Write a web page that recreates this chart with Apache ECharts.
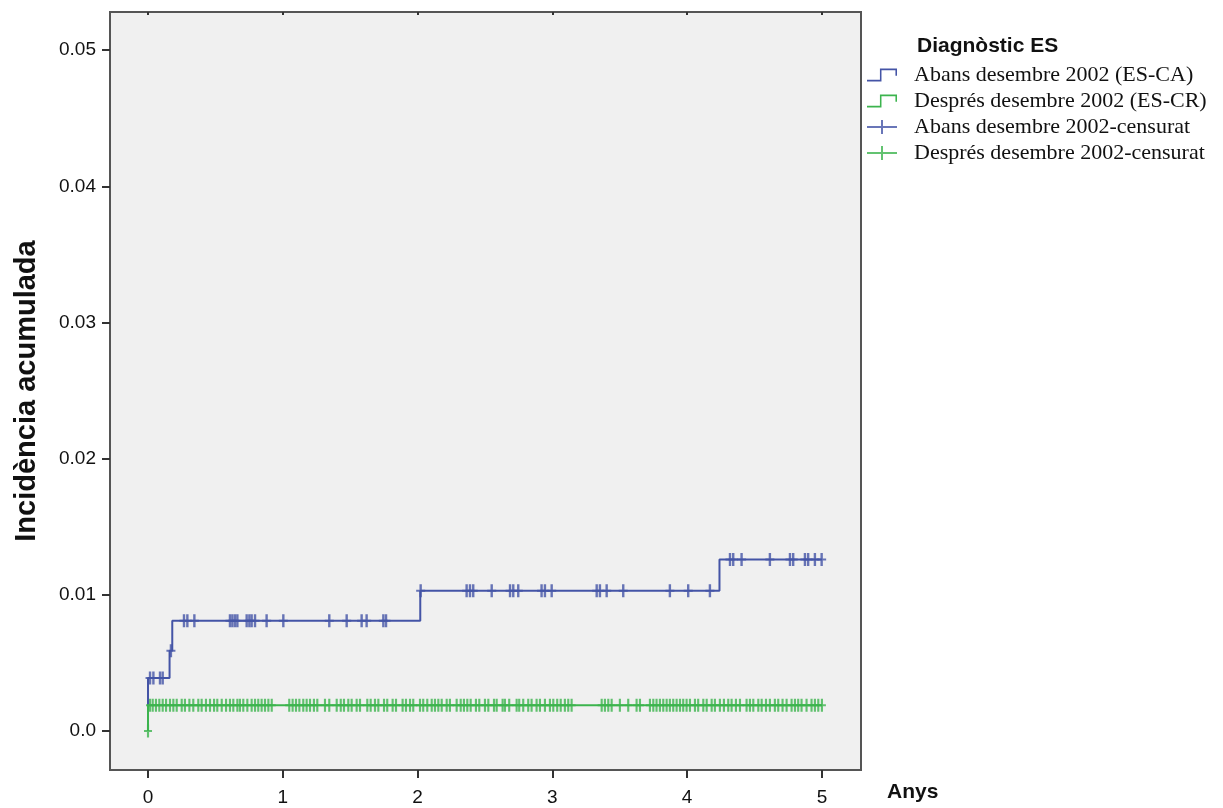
<!DOCTYPE html>
<html>
<head>
<meta charset="utf-8">
<script src="https://cdn.jsdelivr.net/npm/echarts@6/dist/echarts.min.js"></script>
<style>html,body{margin:0;padding:0;background:#fff;}#c{width:1223px;height:808px;}</style>
</head>
<body>
<div id="c"></div>
<script>
// ---- data ----
var seriesNames = [
  "Abans desembre 2002 (ES-CA)",
  "Després desembre 2002 (ES-CR)",
  "Abans desembre 2002-censurat",
  "Després desembre 2002-censurat"
];
var legendTitle = "Diagnòstic ES";
var xAxisName = "Anys";
var yAxisName = "Incidència acumulada";
var xTickValues = [0, 1, 2, 3, 4, 5];
var yTickValues = [0, 0.01, 0.02, 0.03, 0.04, 0.05];
var yTickLabels = ["0.0", "0.01", "0.02", "0.03", "0.04", "0.05"];

// step curves (event times and cumulative incidence after each event)
var blueTimes  = [0, 0,      0.16,   0.18,   2.02,   4.24,   5.0];
var blueValues = [0, 0.0039, 0.0059, 0.0081, 0.0103, 0.0126, 0.0126];
var greenTimes  = [0, 0,      5.0];
var greenValues = [0, 0.0019, 0.0019];

// censoring times
var blueCensor = [0.015, 0.04, 0.089, 0.109, 0.17, 0.267, 0.292, 0.344, 0.608, 0.626, 0.645, 0.663,
  0.732, 0.752, 0.769, 0.794, 0.88, 1.004, 1.345, 1.474, 1.585, 1.622, 1.746, 1.766,
  2.023, 2.364, 2.389, 2.413, 2.55, 2.686, 2.71, 2.747, 2.92, 2.945, 2.995,
  3.329, 3.353, 3.403, 3.526, 3.872, 4.008, 4.169,
  4.318, 4.342, 4.404, 4.614, 4.763, 4.787, 4.874, 4.898, 4.948, 4.998];
var greenCensor = [0, 0.015, 0.035, 0.059, 0.084, 0.109, 0.134, 0.163, 0.188, 0.213, 0.25, 0.274, 0.307,
  0.336, 0.373, 0.398, 0.43, 0.46, 0.49, 0.514, 0.547, 0.579, 0.608, 0.633, 0.663, 0.682,
  0.707, 0.737, 0.769, 0.794, 0.818, 0.843, 0.868, 0.893, 0.918,
  1.048, 1.073, 1.098, 1.123, 1.152, 1.177, 1.202,
  1.231, 1.256, 1.313, 1.345, 1.40, 1.43, 1.454, 1.486, 1.511, 1.548, 1.573, 1.627, 1.652,
  1.684, 1.709, 1.751, 1.775, 1.815, 1.84, 1.889, 1.914, 1.944, 1.968, 2.018, 2.042, 2.072,
  2.105, 2.129, 2.154, 2.179, 2.216, 2.24, 2.29, 2.32, 2.344, 2.369, 2.394, 2.433, 2.458,
  2.5, 2.525, 2.567, 2.587, 2.631, 2.648, 2.68, 2.735, 2.754, 2.784, 2.821, 2.846, 2.883,
  2.908, 2.945, 2.982, 3.007, 3.036, 3.062, 3.093, 3.118, 3.143,
  3.366, 3.39, 3.415, 3.44, 3.501, 3.563, 3.625, 3.65, 3.724,
  3.749, 3.773, 3.798, 3.823, 3.848, 3.872, 3.897, 3.922, 3.947, 3.971, 3.996, 4.021, 4.058,
  4.082, 4.12, 4.145, 4.182, 4.206, 4.243, 4.273, 4.305, 4.33, 4.362, 4.392, 4.441, 4.466,
  4.491, 4.528, 4.553, 4.585, 4.614, 4.651, 4.676, 4.708, 4.738, 4.775, 4.8, 4.824, 4.849,
  4.886, 4.923, 4.948, 4.973, 5.0];

// ---- helpers ----
function zip(a, b) { return a.map(function (v, i) { return [v, b[i]]; }); }
function levelAt(times, values, t) {
  var lv = values[0];
  for (var i = 0; i < times.length; i++) { if (times[i] < t) lv = values[i]; }
  return lv;
}
function censorPoints(cs, times, values) {
  return cs.map(function (t) { return [t, levelAt(times, values, t)]; });
}

var BLUE = '#4454a6';
var GREEN = '#3cb44e';
var SANS = 'Liberation Sans, Arial, sans-serif';
var PLUS = 'path://M0,5.5H9V7.5H0Z M3.3,0H5.7V13H3.3Z';
var STEP_ICON = 'path://M0,12H12.5V1H29V8H27.5V2.6H14V13.6H0Z';
var PLUS_ICON = 'path://M0,6H30V8H0Z M14,0H16V14H14Z';

var chart = echarts.init(document.getElementById('c'), null, { renderer: 'canvas' });
chart.setOption({
  backgroundColor: '#ffffff',
  animation: false,
  title: {
    text: legendTitle, left: 912, top: 31,
    textStyle: { fontFamily: SANS, fontSize: 21, fontWeight: 'bold', color: '#111' }
  },
  legend: {
    orient: 'vertical', left: 862, top: 59,
    itemWidth: 30, itemHeight: 14, itemGap: 4,
    textStyle: { fontFamily: 'Liberation Serif, Times New Roman, serif', fontSize: 22, lineHeight: 22, color: '#111', padding: [0, 0, 0, 12] },
    data: [
      { name: seriesNames[0], icon: STEP_ICON },
      { name: seriesNames[1], icon: STEP_ICON },
      { name: seriesNames[2], icon: PLUS_ICON },
      { name: seriesNames[3], icon: PLUS_ICON }
    ]
  },
  grid: {
    left: 110, top: 12, right: 362, bottom: 38,
    show: true, backgroundColor: '#f0f0f0', borderColor: '#555', borderWidth: 2
  },
  xAxis: [{
    type: 'value', min: -0.282, max: 5.29,
    name: xAxisName, nameLocation: 'end', nameGap: 26,
    nameTextStyle: { fontFamily: SANS, fontSize: 21, fontWeight: 'bold', color: '#111', verticalAlign: 'top', padding: [12, 0, 0, 0] },
    axisLine: { show: true, onZero: false, lineStyle: { color: '#555', width: 2 } },
    axisTick: { show: true, length: 8, lineStyle: { color: '#333', width: 2 }, customValues: xTickValues },
    axisLabel: { customValues: xTickValues, margin: 18, fontFamily: SANS, fontSize: 19, color: '#111' },
    splitLine: { show: false }
  }, {
    type: 'value', position: 'top', min: -0.282, max: 5.29,
    axisLine: { show: true, onZero: false, lineStyle: { color: '#555', width: 2 } },
    axisTick: { show: true, inside: true, length: 3, lineStyle: { color: '#333', width: 2 }, customValues: xTickValues },
    axisLabel: { show: false },
    splitLine: { show: false }
  }],
  yAxis: {
    type: 'value', min: -0.00286, max: 0.0528,
    name: yAxisName, nameLocation: 'middle', nameGap: 69,
    nameTextStyle: { fontFamily: SANS, fontSize: 29, fontWeight: 'bold', color: '#111' },
    axisLine: { show: true, onZero: false, lineStyle: { color: '#555', width: 2 } },
    axisTick: { show: true, length: 8, lineStyle: { color: '#333', width: 2 }, customValues: yTickValues },
    axisLabel: {
      customValues: yTickValues, margin: 14,
      fontFamily: SANS, fontSize: 19, color: '#111',
      formatter: function (v) {
        for (var i = 0; i < yTickValues.length; i++) { if (Math.abs(yTickValues[i] - v) < 1e-9) return yTickLabels[i]; }
        return '';
      }
    },
    splitLine: { show: false }
  },
  series: [
    {
      name: seriesNames[0], type: 'line', step: 'end', showSymbol: false, symbol: 'none',
      data: zip(blueTimes, blueValues), color: BLUE, lineStyle: { color: BLUE, width: 2 }, z: 2
    },
    {
      name: seriesNames[1], type: 'line', step: 'end', showSymbol: false, symbol: 'none',
      data: zip(greenTimes, greenValues), color: GREEN, lineStyle: { color: GREEN, width: 2 }, z: 3
    },
    {
      name: seriesNames[2], type: 'scatter', symbol: PLUS, symbolSize: [9, 13],
      data: censorPoints(blueCensor, blueTimes, blueValues), color: BLUE, itemStyle: { color: BLUE }, z: 4
    },
    {
      name: seriesNames[3], type: 'scatter', symbol: PLUS, symbolSize: [8, 13],
      data: censorPoints(greenCensor, greenTimes, greenValues), color: GREEN, itemStyle: { color: GREEN }, z: 5
    }
  ]
});
</script>
</body>
</html>
